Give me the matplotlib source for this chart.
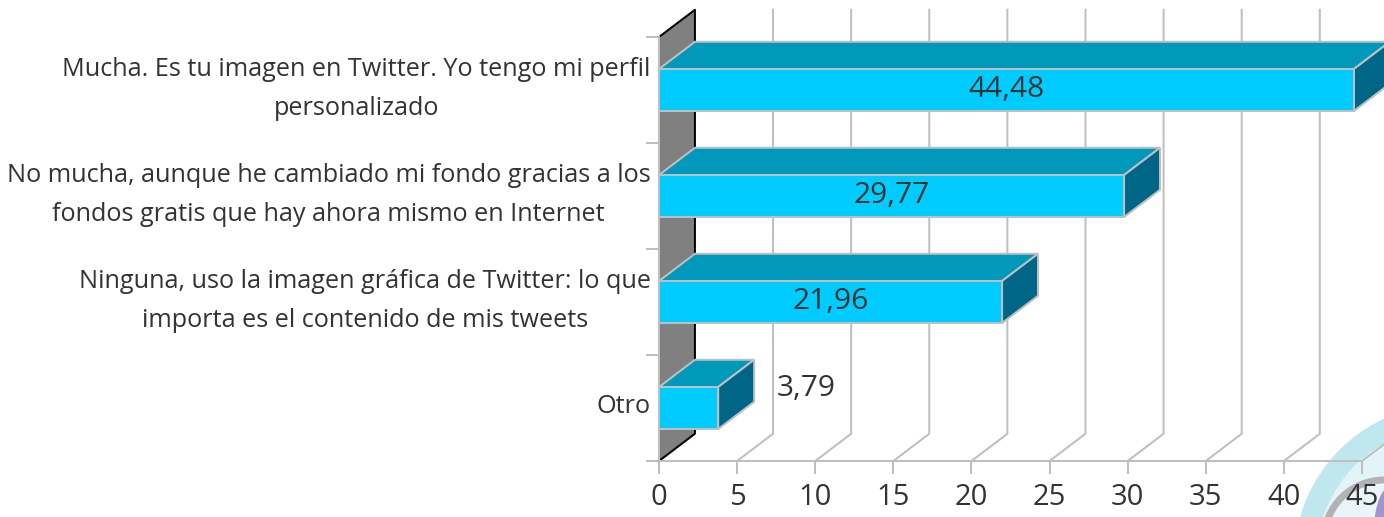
import matplotlib.pyplot as plt
from matplotlib.patches import Polygon, Circle, Ellipse

categorias = ['Otro',
              'Ninguna, uso la imagen gráfica de Twitter: lo que\nimporta es el contenido de mis tweets',
              'No mucha, aunque he cambiado mi fondo gracias a los\nfondos gratis que hay ahora mismo en Internet',
              'Mucha. Es tu imagen en Twitter. Yo tengo mi perfil\npersonalizado']
valores = [3.79, 21.96, 29.77, 44.48]
etiquetas = ['3,79', '21,96', '29,77', '44,48']
ticks_x = [0, 5, 10, 15, 20, 25, 30, 35, 40, 45]

W, H = 1384, 517
plt.rcParams['font.family'] = ['Open Sans', 'DejaVu Sans']
gris = '#bfbfbf'
texto = '#333333'
dx, dy = 2.3, 0.257   # profundidad 3D en unidades de datos
alto = 0.396
lw = 1.45

fig = plt.figure(figsize=(W / 100, H / 100), dpi=100)

# adorno del fondo, abajo a la derecha
bg = fig.add_axes([0, 0, 1, 1], zorder=0)
bg.set_xlim(0, W)
bg.set_ylim(H, 0)
bg.axis('off')
bg.add_patch(Circle((1450, 560), 156, fc='#bfe7ee', ec='none'))
bg.add_patch(Circle((1450, 560), 134, fc='#e2f4f8', ec='none'))
bg.add_patch(Circle((1384, 540), 60, fc='#e8f6f9', ec='#b4b2b4', lw=5))
bg.add_patch(Ellipse((1394, 530), 40, 92, fc='#a294cf', ec='none'))

ax = fig.add_axes([659 / W, 1 - 461 / H, (1362 - 659) / W, (461 - 37) / H], zorder=1)
ax.patch.set_alpha(0)
ax.set_xlim(0, 45)
ax.set_ylim(0, 4)
for s in ax.spines.values():
    s.set_visible(False)

# pared lateral
ax.add_patch(Polygon([(0, 0), (dx, dy), (dx, 4 + dy), (0, 4)], fc='#808080', ec='none', zorder=1,
                     clip_on=False))
ax.plot([0, dx, dx, 0], [0, dy, 4 + dy, 4], color='black', lw=lw, zorder=2, clip_on=False)

# rejilla
for t in ticks_x[1:]:
    ax.plot([t, t + dx, t + dx], [0, dy, 4 + dy], color=gris, lw=lw, zorder=1, clip_on=False)

ax.plot([0, 45], [0, 0], color=gris, lw=lw, zorder=2, clip_on=False)
ax.plot([0, 0], [0, 4], color=gris, lw=lw, zorder=2, clip_on=False)

# barras
for i, v in enumerate(valores):
    y0 = i + 0.5 - alto / 2
    y1 = y0 + alto
    z = 10 - i
    ax.add_patch(Polygon([(0, y1), (dx, y1 + dy), (v + dx, y1 + dy), (v, y1)],
                         fc='#0099bb', ec=gris, lw=lw, zorder=z, clip_on=False))
    ax.add_patch(Polygon([(v, y0), (v + dx, y0 + dy), (v + dx, y1 + dy), (v, y1)],
                         fc='#006688', ec=gris, lw=lw, zorder=z, clip_on=False))
    ax.add_patch(Polygon([(0, y0), (v, y0), (v, y1), (0, y1)],
                         fc='#00ccff', ec=gris, lw=lw, zorder=z, clip_on=False))
    if v > 10:
        ax.text(v / 2, i + 0.505, etiquetas[i], ha='center', va='center', fontsize=21.5,
                color=texto, zorder=20)
    else:
        ax.text(v + 5.65, i + 0.68, etiquetas[i], ha='center', va='center', fontsize=21.5,
                color=texto, zorder=20)

ax.set_xticks(ticks_x)
ax.set_yticks([0, 1, 2, 3, 4])
ax.set_yticklabels([])
ax.tick_params(axis='both', color=gris, width=lw, length=9.5, labelsize=21, labelcolor=texto)
ax.tick_params(axis='x', pad=6.5)

# categorias a mano, centradas entre si y alineadas a la derecha
for i, c in enumerate(categorias):
    ax.annotate(c, xy=(0, i + 0.51), xytext=(-6, 0), textcoords='offset points',
                ha='right', va='center', multialignment='center', fontsize=18.2,
                color=texto, linespacing=1.7, annotation_clip=False)

fig.savefig('out.png', dpi=100)
